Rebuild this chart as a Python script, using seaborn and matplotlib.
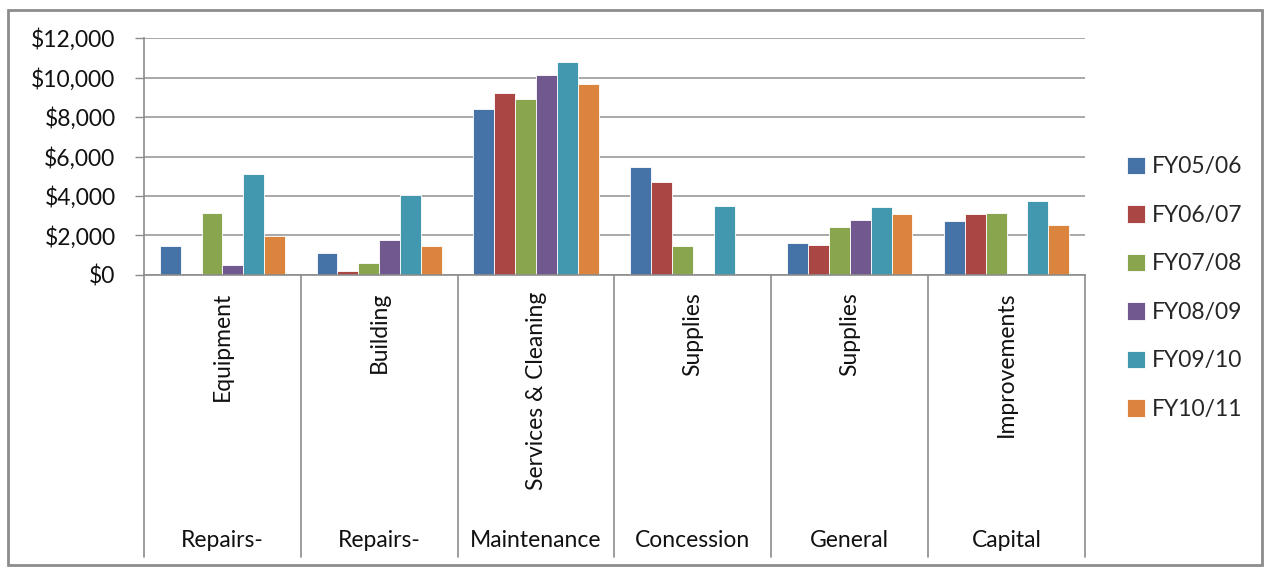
import matplotlib
matplotlib.use("Agg")
import matplotlib.pyplot as plt
import matplotlib.patches as mpatches
from matplotlib.lines import Line2D
from matplotlib.ticker import FuncFormatter
import seaborn as sns
import pandas as pd

# ---- data ----
categories = ["Repairs-|Equipment", "Repairs-|Building", "Maintenance|Services & Cleaning",
              "Concession|Supplies", "General|Supplies", "Capital|Improvements"]
top_labels = ["Equipment", "Building", "Services & Cleaning", "Supplies", "Supplies", "Improvements"]
bottom_labels = ["Repairs-", "Repairs-", "Maintenance", "Concession", "General", "Capital"]
years = ["FY05/06", "FY06/07", "FY07/08", "FY08/09", "FY09/10", "FY10/11"]

fy0506 = [1480, 1090, 8400, 5450, 1630, 2710]
fy0607 = [0, 200, 9190, 4720, 1500, 3110]
fy0708 = [3160, 590, 8920, 1480, 2450, 3160]
fy0809 = [520, 1750, 10150, 0, 2790, 0]
fy0910 = [5110, 4070, 10810, 3500, 3430, 3750]
fy1011 = [1970, 1480, 9650, 0, 3110, 2520]

colors = ["#4572A7", "#AA4643", "#89A54E", "#71588F", "#4198AF", "#DB843D"]

series = [fy0506, fy0607, fy0708, fy0809, fy0910, fy1011]
rows = []
for yr, vals in zip(years, series):
    for cat, v in zip(categories, vals):
        rows.append({"cat": cat, "year": yr, "value": v})
df = pd.DataFrame(rows)

# ---- figure ----
sns.set_style("white")
plt.rcParams["font.family"] = ["Lato", "DejaVu Sans"]
FS = 16.5
W, H = 1265, 570
fig = plt.figure(figsize=(W / 100, H / 100), dpi=100)
ax = fig.add_axes([144 / W, 1 - 275 / H, (1085 - 144) / W, (275 - 38) / H])

sns.barplot(data=df, x="cat", y="value", hue="year", order=categories, hue_order=years,
            palette=colors, saturation=1, width=0.8, edgecolor="white", linewidth=0.6,
            errorbar=None, ax=ax, legend=True)

ax.set_ylim(0, 12000)
ax.set_xlim(-0.5, len(categories) - 0.5)
ax.set_yticks(range(0, 12001, 2000))
ax.yaxis.set_major_formatter(FuncFormatter(lambda v, p: "${:,.0f}".format(v)))
ax.tick_params(axis="y", labelsize=FS, length=6.5, width=1, color="#8c8c8c", pad=14,
               labelcolor="#111111", left=True)
ax.set_xticks([])
ax.set_xlabel("")
ax.set_ylabel("")
ax.grid(axis="y", color="#9a9a9a", linewidth=1.2)
ax.set_axisbelow(True)
for s in ["top", "right"]:
    ax.spines[s].set_visible(False)
for s in ["left", "bottom"]:
    ax.spines[s].set_color("#8c8c8c")
    ax.spines[s].set_linewidth(1.2)

# category separators and multi-level labels
trans = ax.get_xaxis_transform()
depth = (557 - 275) / (275 - 38)
for i in range(len(categories) + 1):
    ax.add_line(Line2D([i - 0.5, i - 0.5], [0, -depth], transform=trans,
                       color="#8c8c8c", linewidth=1.2, clip_on=False))
for i, (t, b) in enumerate(zip(top_labels, bottom_labels)):
    ax.text(i, -(292 - 275) / 237, t, transform=trans, rotation=90,
            ha="center", va="top", fontsize=FS, color="#111111")
    ax.text(i, -(541 - 275) / 237, b, transform=trans,
            ha="center", va="center", fontsize=FS, color="#111111")

# legend
handles, labels = ax.get_legend_handles_labels()
ax.legend(handles, labels, loc="center left", bbox_to_anchor=(1106 / W, 1 - 288 / H),
          bbox_transform=fig.transFigure, frameon=False, fontsize=FS,
          handlelength=0.8, handleheight=0.8, handletextpad=0.3, labelspacing=1.2)

# outer border
fig.add_artist(mpatches.Rectangle((8 / W, 5 / H), (1262 - 8) / W, (565 - 10) / H,
                                  transform=fig.transFigure, fill=False,
                                  edgecolor="#8c8c8c", linewidth=2))

fig.savefig("out.png", dpi=100)
